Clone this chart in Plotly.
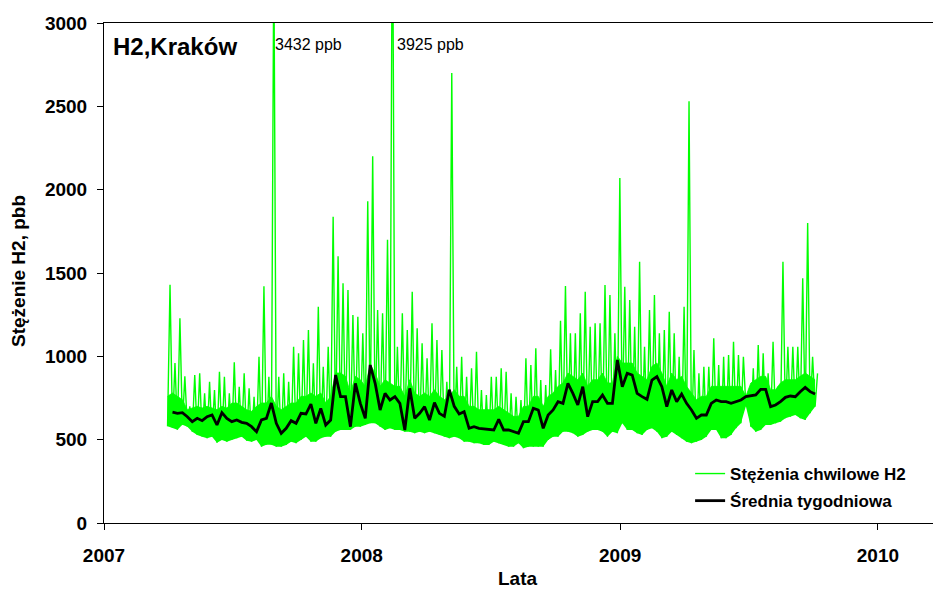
import pandas as pd
import plotly.graph_objects as go

# Weekly sample dates (start of each week) for the Kraków H2 record
week_start = "2007-04-01"

# Lower envelope of the instantaneous concentrations per week (ppb)
green_low = [580, 570, 560, 590, 578, 548, 528, 518, 508, 518, 482, 498, 488, 498, 508, 518, 494, 488, 498, 458,
             470, 470, 458, 458, 468, 488, 478, 498, 518, 488, 488, 508, 518, 518, 548, 558, 558, 558, 578, 578,
             588, 598, 598, 578, 558, 568, 558, 558, 548, 548, 538, 548, 538, 548, 538, 528, 518, 508, 518, 508,
             488, 488, 478, 478, 468, 468, 488, 478, 468, 458, 458, 478, 448, 458, 458, 458, 458, 498, 518, 518,
             548, 548, 538, 518, 528, 548, 558, 558, 548, 518, 548, 538, 598, 558, 558, 538, 528, 558, 568, 548,
             508, 518, 548, 528, 508, 488, 478, 488, 498, 518, 558, 558, 508, 508, 528, 568, 598, 700, 578, 548,
             558, 588, 588, 598, 608, 628, 638, 648, 628, 618, 658, 698]

# Top of the dense band of instantaneous concentrations per week (ppb)
green_core = [760, 780, 760, 740, 680, 690, 700, 690, 700, 690, 680, 700, 690, 720, 720, 700, 680, 670, 700, 720,
              720, 760, 700, 680, 700, 720, 720, 760, 760, 780, 760, 780, 720, 760, 900, 900, 880, 780, 880, 860,
              820, 950, 900, 820, 860, 840, 820, 820, 760, 860, 780, 760, 780, 760, 800, 760, 740, 760, 800, 760,
              760, 700, 700, 680, 680, 680, 680, 700, 680, 660, 640, 640, 700, 700, 760, 760, 700, 760, 780, 820,
              840, 900, 880, 860, 900, 820, 860, 860, 900, 840, 840, 1000, 960, 960, 960, 900, 880, 860, 940, 960,
              900, 820, 900, 860, 880, 820, 780, 740, 760, 760, 820, 820, 820, 820, 820, 820, 820, 760, 840, 860,
              880, 880, 800, 800, 840, 860, 860, 860, 880, 900, 880, 860]

# Weekly peak of the instantaneous concentrations (ppb)
green_high = [1430, 960, 1228, 880, 700, 888, 898, 778, 848, 798, 908, 878, 778, 964, 818, 898, 808, 758, 998, 1420,
              878, 3432, 878, 898, 848, 1058, 1018, 1098, 1158, 958, 1298, 938, 1058, 1838, 1600, 1438, 1398, 1248, 1238, 1138,
              1930, 2200, 1278, 1258, 1700, 3925, 1058, 1258, 1158, 1388, 1168, 1078, 988, 1198, 1098, 1038, 848, 2700, 938, 998,
              878, 928, 1028, 798, 768, 878, 878, 928, 908, 778, 758, 738, 988, 948, 1048, 858, 828, 1042, 918, 1214,
              1422, 1138, 1138, 1258, 1388, 1178, 1198, 1198, 1428, 1368, 1138, 2070, 1418, 1338, 1178, 1568, 1058, 1278, 1368, 1138,
              1158, 1268, 1138, 998, 1298, 2530, 1038, 898, 938, 938, 1108, 948, 998, 1008, 1088, 1008, 998, 780, 928, 1068,
              1018, 898, 1088, 818, 1568, 1058, 1058, 1058, 1468, 1800, 998, 898]

# Weekly mean ("Średnia tygodniowa", ppb)
weekly_mean = [None, 665, 658, 662, 638, 608, 628, 614, 638, 648, 588, 662, 628, 608, 618, 604, 598, 578, 548, 618,
               628, 720, 598, 538, 568, 614, 598, 658, 654, 714, 598, 688, 588, 618, 888, 758, 758, 578, 838, 718,
               628, 948, 838, 678, 778, 738, 758, 718, 558, 808, 628, 658, 698, 618, 722, 658, 640, 800, 700, 654,
               668, 568, 578, 568, 564, 558, 558, 622, 558, 558, 548, 538, 608, 608, 688, 678, 568, 648, 678, 728,
               718, 838, 778, 708, 818, 638, 728, 728, 768, 718, 718, 978, 818, 898, 888, 778, 758, 742, 858, 878,
               818, 698, 798, 728, 774, 718, 678, 628, 648, 648, 718, 738, 728, 728, 718, 728, 738, 758, 762, 768,
               802, 802, 698, 708, 728, 754, 762, 758, 788, 814, 788, 774]

x_ticks = ["2007-01-01", "2008-01-01", "2009-01-01", "2010-01-01"]
tick_text = ["2007", "2008", "2009", "2010"]

n = len(green_low)
weeks = pd.date_range(week_start, periods=n, freq="7D")
half = pd.Timedelta(hours=84)

zig_x, zig_y = [], []
for d, lo, hi in zip(weeks, green_low, green_high):
    zig_x += [d, d + half]
    zig_y += [lo, hi]

GREEN = "#00ff00"
FONT = "Liberation Sans, Arial, sans-serif"

fig = go.Figure()
fig.add_trace(go.Scatter(x=weeks, y=green_low, mode="lines", line=dict(width=0, color=GREEN),
                         showlegend=False, hoverinfo="skip"))
fig.add_trace(go.Scatter(x=weeks, y=green_core, mode="lines", line=dict(width=0.8, color=GREEN),
                         fill="tonexty", fillcolor=GREEN, showlegend=False, hoverinfo="skip"))
fig.add_trace(go.Scatter(x=zig_x, y=zig_y, mode="lines", line=dict(width=1.4, color=GREEN),
                         name="Stężenia chwilowe H2", legendgroup="a"))
fig.add_trace(go.Scatter(x=weeks, y=weekly_mean, mode="lines", line=dict(width=2.8, color="black"),
                         name="Średnia tygodniowa", legendgroup="b", connectgaps=False))

fig.add_annotation(x=0.008, y=0.985, xref="paper", yref="paper", text="<b>H2,Kraków</b>",
                   showarrow=False, xanchor="left", yanchor="top", font=dict(size=24, color="black", family=FONT))
fig.add_annotation(x="2007-08-29", y=2935, text="3432 ppb", showarrow=False, xanchor="left", yanchor="top",
                   font=dict(size=16, color="black", family=FONT))
fig.add_annotation(x="2008-02-17", y=2935, text="3925 ppb", showarrow=False, xanchor="left", yanchor="top",
                   font=dict(size=16, color="black", family=FONT))
# axis titles
fig.add_annotation(x=(518 - 104) / 829, y=(523 - 578) / 500, xref="paper", yref="paper", text="<b>Lata</b>",
                   showarrow=False, xanchor="center", yanchor="middle", font=dict(size=19, color="black", family=FONT))
fig.add_annotation(x=(18 - 104) / 829, y=(523 - 271) / 500, xref="paper", yref="paper",
                   text="<b>Stężenie H2, pbb</b>", textangle=-90,
                   showarrow=False, xanchor="center", yanchor="middle", font=dict(size=19, color="black", family=FONT))

fig.update_layout(
    width=933, height=592,
    margin=dict(l=104, r=0, t=23, b=69),
    paper_bgcolor="white", plot_bgcolor="white",
    font=dict(family=FONT, color="black", size=15),
    legend=dict(x=0.707, y=0.134, xanchor="left", yanchor="top", bgcolor="rgba(0,0,0,0)",
                font=dict(size=17, family=FONT, color="black", weight="bold"),
                tracegroupgap=2, traceorder="grouped"),
    showlegend=True,
)
fig.update_xaxes(type="date", range=["2007-01-01", "2010-03-20"], tickvals=x_ticks, ticktext=tick_text,
                 automargin=False,
                 showgrid=False, zeroline=False, showline=True, linecolor="black", linewidth=1, mirror=True,
                 ticks="outside", ticklen=6, tickcolor="black", ticklabelstandoff=9,
                 tickfont=dict(size=19, weight="bold"))
fig.update_yaxes(range=[0, 3000], tickmode="linear", tick0=0, dtick=500, automargin=False,
                 showgrid=False, zeroline=False, showline=True, linecolor="black", linewidth=1,
                 ticks="outside", ticklen=6, tickcolor="black", ticklabelstandoff=6,
                 tickfont=dict(size=19, weight="bold"))

fig.write_html("out.html", config={"displayModeBar": False},
               post_script="document.body.style.margin='0';document.body.style.overflow='hidden';")
